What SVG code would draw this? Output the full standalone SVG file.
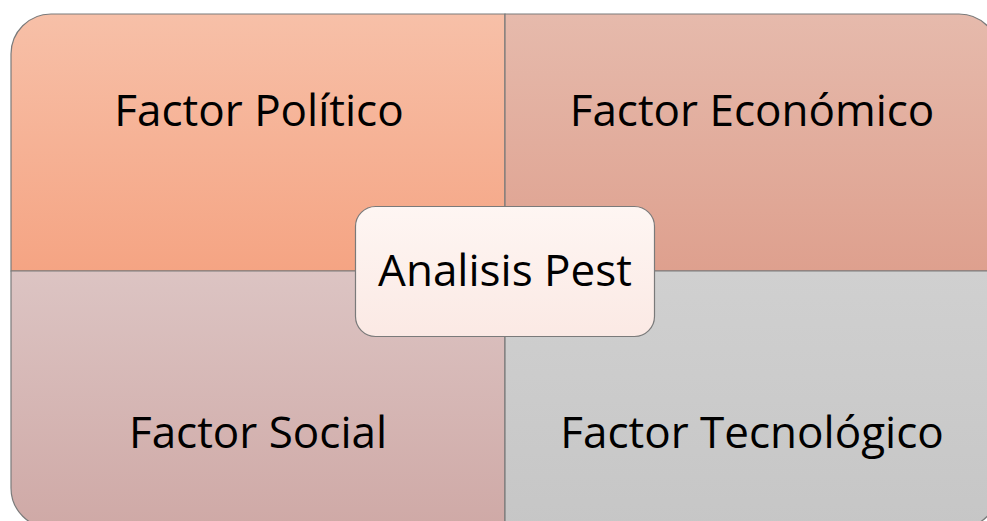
<svg xmlns="http://www.w3.org/2000/svg" width="987" height="521" viewBox="0 0 987 521">
<defs>
<linearGradient id="gTL" x1="0" y1="0" x2="0" y2="1"><stop offset="0" stop-color="#f7c0a8"/><stop offset="1" stop-color="#f5a483"/></linearGradient>
<linearGradient id="gTR" x1="0" y1="0" x2="0" y2="1"><stop offset="0" stop-color="#e6baac"/><stop offset="1" stop-color="#dea08e"/></linearGradient>
<linearGradient id="gBL" x1="0" y1="0" x2="0" y2="1"><stop offset="0" stop-color="#dcc4c3"/><stop offset="1" stop-color="#cfa9a6"/></linearGradient>
<linearGradient id="gBR" x1="0" y1="0" x2="0" y2="1"><stop offset="0" stop-color="#d0d0d0"/><stop offset="1" stop-color="#c6c6c6"/></linearGradient>
<linearGradient id="gC" x1="0" y1="0" x2="0" y2="1"><stop offset="0" stop-color="#fef6f3"/><stop offset="1" stop-color="#fbe9e4"/></linearGradient>
</defs>
<style>
.q{stroke:#7a7a7a;stroke-width:1.2}
.t{font-family:"Open Sans","Noto Sans","Liberation Sans",sans-serif;font-size:44px;fill:#000;text-anchor:middle}
</style>
<g id="politico">
<path class="q" fill="url(#gTL)" d="M11,271 V54 A40,40 0 0 1 51,14 H505 V271 Z"/>
<text class="t" x="259" y="126">Factor Político</text>
</g>
<g id="economico">
<path class="q" fill="url(#gTR)" d="M505,14 H959 A40,40 0 0 1 999,54 V271 H505 Z"/>
<text class="t" x="752" y="126">Factor Económico</text>
</g>
<g id="social">
<path class="q" fill="url(#gBL)" d="M11,271 H505 V528 H51 A40,40 0 0 1 11,488 Z"/>
<text class="t" x="258" y="448">Factor Social</text>
</g>
<g id="tecnologico">
<path class="q" fill="url(#gBR)" d="M505,271 H999 V488 A40,40 0 0 1 959,528 H505 Z"/>
<text class="t" x="752" y="448">Factor Tecnológico</text>
</g>
<g id="centro">
<rect x="355.5" y="206.5" width="299" height="130" rx="20" fill="url(#gC)" stroke="#7a7a7a" stroke-width="1.2"/>
<text class="t" x="505" y="286">Analisis Pest</text>
</g>
</svg>
